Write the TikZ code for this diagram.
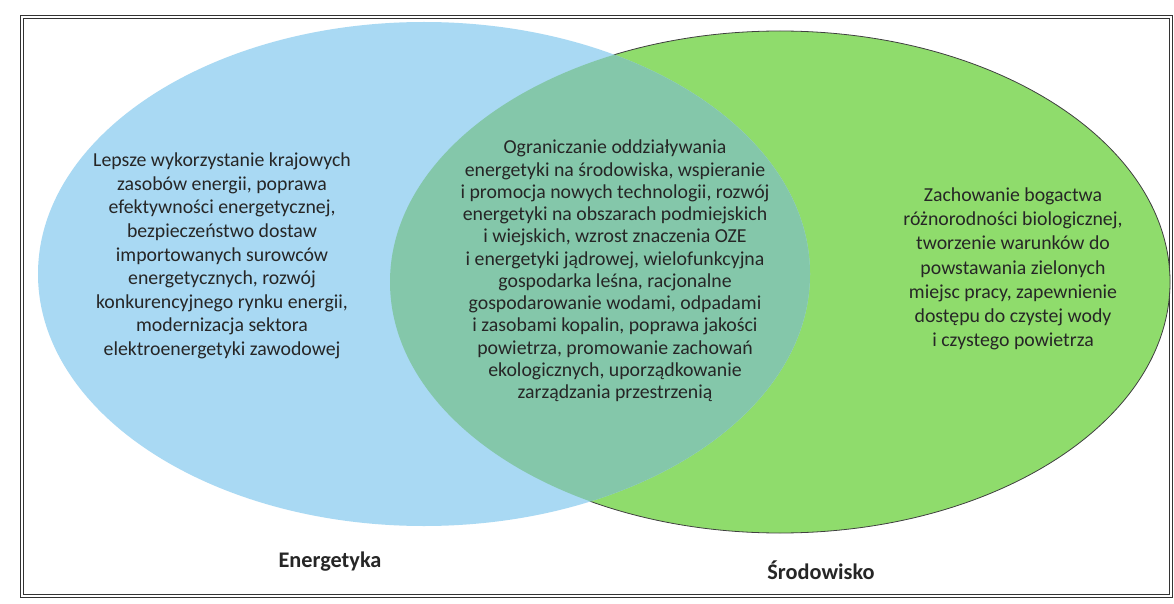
\documentclass[tikz,border=0pt]{standalone}
\usepackage{fontspec}
\setmainfont{Carlito}
\definecolor{blueC}{HTML}{A9D9F3}
\definecolor{greenC}{HTML}{8FDC6C}
\definecolor{overC}{HTML}{84C7AA}
\definecolor{inkC}{HTML}{262626}
\tikzset{
  bodytext/.style={align=center, text=inkC, inner sep=0pt},
  setlabel/.style={text=inkC, font=\fontsize{22.3}{26}\selectfont\bfseries, inner sep=0pt},
  framebox/.style={draw=black!80, line width=1.1pt, double=white, double distance=1.6pt}
}
\begin{document}
\begin{tikzpicture}[x=1pt,y=-1pt]
\useasboundingbox (0,0) rectangle (1174,604);
\fill[white] (0,0) rectangle (1174,604);
\draw[framebox] (22,17) rectangle (1171,596);
% green set (outlined)
\path[fill=greenC, draw=black!75, line width=0.8pt] (780,282) ellipse [x radius=390, y radius=251];
% blue set
\path[fill=blueC] (424,274) ellipse [x radius=386, y radius=252];
% overlap
\begin{scope}
  \clip (424,274) ellipse [x radius=386, y radius=252];
  \fill[overC] (780,282) ellipse [x radius=390, y radius=251];
\end{scope}
\node[bodytext, font=\fontsize{19.8}{23.6}\selectfont] (left) at (222,256) {Lepsze wykorzystanie krajowych\\zasobów energii, poprawa\\efektywności energetycznej,\\bezpieczeństwo dostaw\\importowanych surowców\\energetycznych, rozwój\\konkurencyjnego rynku energii,\\modernizacja sektora\\elektroenergetyki zawodowej};
\node[bodytext, font=\fontsize{19.8}{22.25}\selectfont] (mid) at (615,271) {Ograniczanie oddziaływania\\energetyki na środowiska, wspieranie\\i promocja nowych technologii, rozwój\\energetyki na obszarach podmiejskich\\i wiejskich, wzrost znaczenia OZE\\i energetyki jądrowej, wielofunkcyjna\\gospodarka leśna, racjonalne\\gospodarowanie wodami, odpadami\\i zasobami kopalin, poprawa jakości\\powietrza, promowanie zachowań\\ekologicznych, uporządkowanie\\zarządzania przestrzenią};
\node[bodytext, font=\fontsize{19.8}{24.2}\selectfont] (right) at (1013,269) {Zachowanie bogactwa\\różnorodności biologicznej,\\tworzenie warunków do\\powstawania zielonych\\miejsc pracy, zapewnienie\\dostępu do czystej wody\\i czystego powietrza};
\node[setlabel] (energ) at (330,562) {Energetyka};
\node[setlabel] (srod) at (821,570) {Środowisko};
\end{tikzpicture}
\end{document}
